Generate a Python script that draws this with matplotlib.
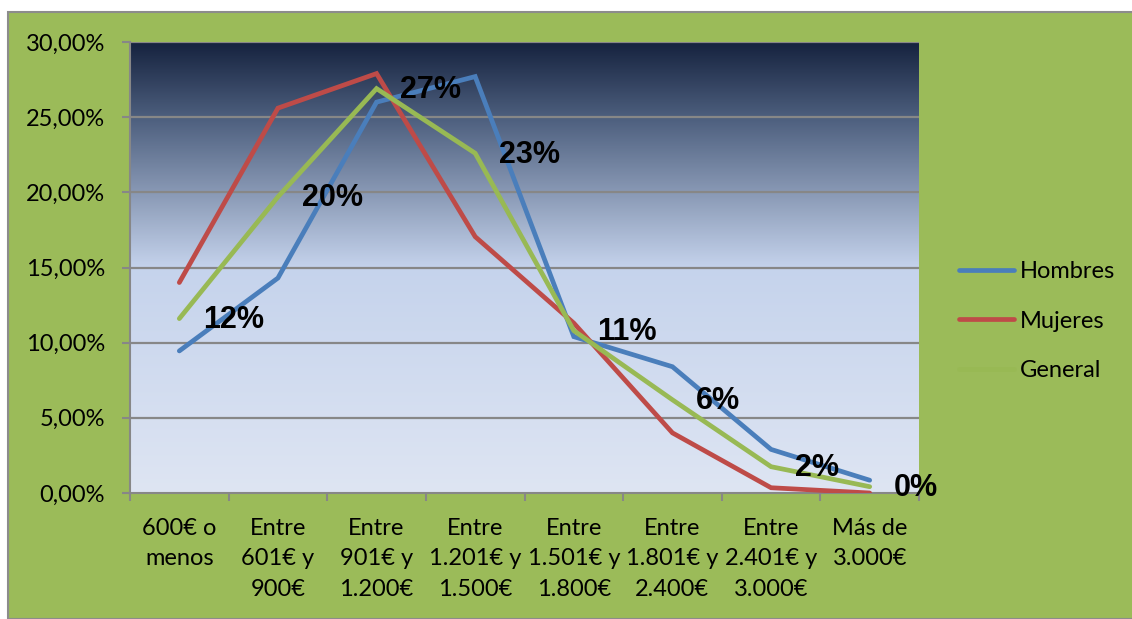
import matplotlib
matplotlib.use("Agg")
import matplotlib.pyplot as plt
import numpy as np
from matplotlib.colors import LinearSegmentedColormap
from matplotlib.patches import Rectangle
from matplotlib.ticker import FuncFormatter, FixedLocator

categories = ["600€ o\nmenos", "Entre\n601€ y\n900€", "Entre\n901€ y\n1.200€",
              "Entre\n1.201€ y\n1.500€", "Entre\n1.501€ y\n1.800€",
              "Entre\n1.801€ y\n2.400€", "Entre\n2.401€ y\n3.000€", "Más de\n3.000€"]
hombres = [9.45, 14.3, 26.0, 27.7, 10.4, 8.4, 2.9, 0.85]
mujeres = [14.0, 25.6, 27.9, 17.05, 11.3, 4.0, 0.35, 0.0]
general = [11.6, 19.7, 26.9, 22.6, 10.8, 6.2, 1.75, 0.42]
labels = ["12%", "20%", "27%", "23%", "11%", "6%", "2%", "0%"]
yticks = [0, 5, 10, 15, 20, 25, 30]

W, H = 1132, 619
fig = plt.figure(figsize=(W / 100, H / 100), dpi=100)
fig.patch.set_facecolor("white")
fig.patches.append(Rectangle((8 / W, 0), 1, 1 - 12 / H, transform=fig.transFigure,
                             facecolor="#9BBB59", edgecolor="#8C8C8C", linewidth=1.5,
                             zorder=-10))

ax = fig.add_axes([130 / W, (H - 493) / H, (919 - 130) / W, (493 - 42) / H])
ax.set_facecolor("none")
x = np.arange(len(categories))
ax.set_xlim(-0.5, len(categories) - 0.5)
ax.set_ylim(0, 30)

# gradient background
cmap = LinearSegmentedColormap.from_list("bg", [(0, "#DEE5F3"), (0.5, "#C5D3EC"),
                                                (0.83, "#4E607F"), (1, "#16233F")])
grad = np.linspace(0, 1, 256).reshape(-1, 1)
ax.imshow(grad, cmap=cmap, aspect="auto", origin="lower",
          extent=[-0.5, len(categories) - 0.5, 0, 30], zorder=0)

for yv in yticks[1:]:
    ax.axhline(yv, color="#878787", linewidth=1.6, zorder=1)

lw = 3.4
ax.plot(x, hombres, color="#4A7EBB", linewidth=lw, label="Hombres", zorder=3,
        solid_capstyle="round", solid_joinstyle="miter")
ax.plot(x, mujeres, color="#BE4B48", linewidth=lw, label="Mujeres", zorder=3,
        solid_capstyle="round", solid_joinstyle="miter")
ax.plot(x, general, color="#98B954", linewidth=lw, label="General", zorder=4,
        solid_capstyle="round", solid_joinstyle="miter")

for xi, yi, lab in zip(x, general, labels):
    ax.annotate(lab, (xi, yi), xytext=(17, -1), textcoords="offset points",
                ha="left", va="center", fontsize=22, fontweight="bold",
                family="Liberation Sans", color="black", zorder=5,
                annotation_clip=False)

for s in ["top", "right"]:
    ax.spines[s].set_visible(False)
ax.spines["left"].set_color("#878787")
ax.spines["left"].set_linewidth(1.5)
ax.spines["bottom"].set_color("#878787")
ax.spines["bottom"].set_linewidth(1.5)

ax.set_yticks(yticks)
ax.yaxis.set_major_formatter(FuncFormatter(lambda v, p: f"{v:.2f}".replace(".", ",") + "%"))
ax.tick_params(axis="y", length=6, width=1.5, color="#878787", pad=12,
               labelsize=17, labelcolor="black")
for t in ax.get_yticklabels():
    t.set_family("Lato")

ax.set_xticks(x)
ax.set_xticklabels(categories, fontsize=17, family="Lato", linespacing=1.55)
ax.tick_params(axis="x", which="major", length=0, pad=18)
ax.xaxis.set_minor_locator(FixedLocator(np.arange(-0.5, len(categories), 1.0)))
ax.tick_params(axis="x", which="minor", length=6, width=1.5, color="#878787")
for t in ax.get_xticklabels():
    t.set_verticalalignment("top")

leg = ax.legend(loc="upper left", bbox_to_anchor=(938 / W, (H - 240) / H),
                bbox_transform=fig.transFigure, frameon=False,
                prop={"family": "Lato", "size": 17}, handlelength=2.3,
                handletextpad=0.25, labelspacing=1.2)

fig.savefig("out.png", dpi=100, facecolor=fig.get_facecolor())
